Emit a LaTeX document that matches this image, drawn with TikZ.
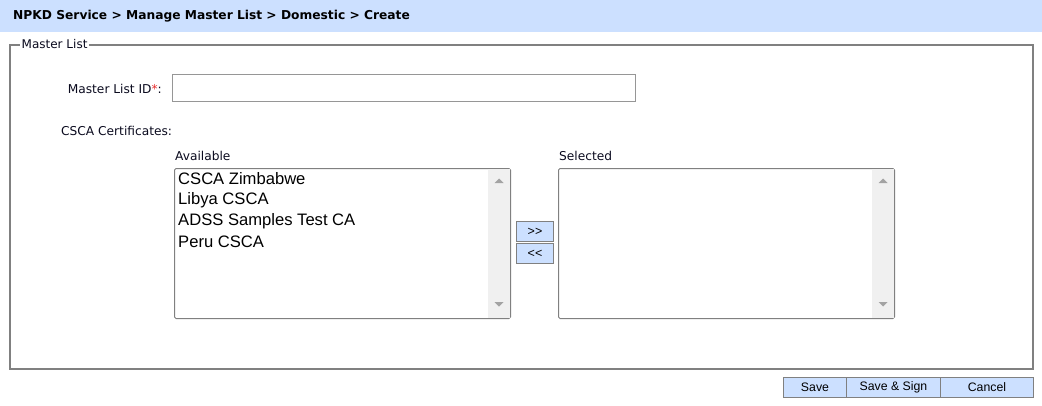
\documentclass[tikz,border=0pt]{standalone}
\usepackage{fontspec}
\setmainfont{DejaVu Sans}
\newfontfamily\arialfont{Liberation Sans}
\usetikzlibrary{positioning}

\definecolor{headblue}{RGB}{204,224,255}
\definecolor{framegray}{RGB}{128,128,128}
\definecolor{boxgray}{RGB}{150,150,150}
\definecolor{scrollgray}{RGB}{240,240,240}
\definecolor{tipgray}{RGB}{163,163,163}
\definecolor{starred}{RGB}{230,40,40}
\definecolor{labelink}{RGB}{10,10,30}

\tikzset{
  lbl/.style={anchor=west, inner sep=0pt, text=labelink, font=\fontsize{12.2}{14}\selectfont},
  listbox/.style={draw=framegray, line width=1pt, rounded corners=1.5pt, fill=white,
    anchor=north west, minimum width=336pt, minimum height=150pt, inner sep=0pt},
  listitem/.style={anchor=west, inner sep=0pt, font=\arialfont\fontsize{16.6}{18}\selectfont},
  btn/.style={draw=framegray, line width=1pt, fill=headblue, inner sep=0pt,
    anchor=north west, minimum height=20pt, font=\arialfont\fontsize{12.3}{14}\selectfont},
  movebtn/.style={btn, minimum width=37pt, font=\arialfont\fontsize{12.5}{14}\selectfont}
}

\begin{document}
\begin{tikzpicture}[x=1pt,y=-1pt]
        \useasboundingbox (0,0) rectangle (1042,405);

        % Header band
        \fill[headblue] (0,0) rectangle (1042,32);
        \node[anchor=west, inner sep=0pt, font=\bfseries\fontsize{12.25}{14}\selectfont] (crumb) at (13,16)
            {NPKD Service > Manage Master List > Domestic > Create};

        % Fieldset
        \node[draw=framegray, line width=2pt, anchor=north west, minimum width=1023pt,
            minimum height=324pt, inner sep=0pt] (frame) at (9,44) {};
        \node[anchor=west, fill=white, inner xsep=1.5pt, inner ysep=1pt, text=labelink,
            font=\fontsize{12}{14}\selectfont] (legend) at (20,44) {Master List};

        % Master List ID field
        \node[lbl, anchor=east] (idlabel) at (162,89) {Master List ID\textcolor{starred}{*}:};
        \node[draw=boxgray, line width=1pt, anchor=north west, minimum width=463pt,
            minimum height=27pt, inner sep=0pt] (idfield) at (172,74) {};

        % Certificates
        \node[lbl] (csca) at (61,131) {CSCA Certificates:};
        \node[lbl] (availlbl) at (175,156) {Available};
        \node[lbl] (sellbl) at (559,156) {Selected};

        % List boxes with scroll bars
        \foreach \lx/\nm in {174/avail, 558/sel} {
            \node[listbox] (\nm) at (\lx,168) {};
            \fill[scrollgray] (\lx+314,168.5) rectangle (\lx+335.5,317.5);
            \fill[tipgray] (\lx+320.5,183) -- (\lx+329.5,183) -- (\lx+325,178.5) -- cycle;
            \fill[tipgray] (\lx+320.5,302) -- (\lx+329.5,302) -- (\lx+325,306.5) -- cycle;
        }

        % Available entries
        \foreach \i/\entry in {0/CSCA Zimbabwe, 1/Libya CSCA, 2/ADSS Samples Test CA, 3/Peru CSCA} {
            \node[listitem] (item\i) at (178,179+21*\i) {\entry};
        }

        % Move buttons
        \node[movebtn] (addbtn) at (516,221) {>{}>};
        \node[movebtn] (rembtn) at (516,243) {<{}<};

        % Form buttons
        \foreach \bx/\bw/\nm/\txt in {783/63/save/Save, 846/94/sign/{Save \& Sign}, 940/93/cancel/Cancel} {
            \node[btn, minimum width=\bw pt] (\nm) at (\bx,377) {\txt};
        }
    \end{tikzpicture}
\end{document}
